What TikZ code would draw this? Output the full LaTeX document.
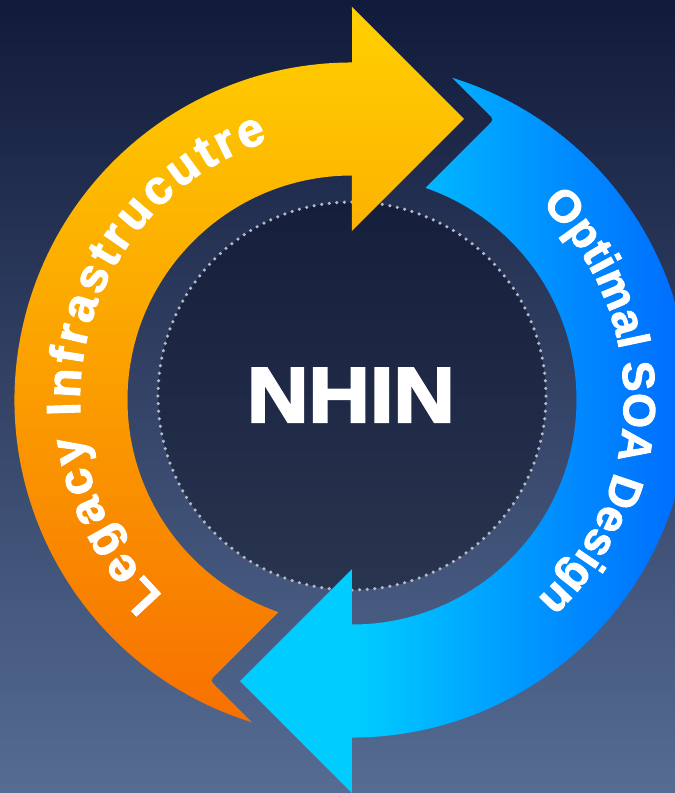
\documentclass[tikz,border=0pt]{standalone}
\usepackage{fontspec}
\setmainfont{Liberation Sans}
\newfontfamily\heavyfont[BoldFeatures={FakeBold=2}]{Liberation Sans}
\newfontfamily\blackfont[BoldFeatures={FakeBold=3}]{Liberation Sans}
\usepackage{graphicx}
\usetikzlibrary{decorations.text}
\definecolor{bgTop}{HTML}{111A3A}
\definecolor{bgMid}{HTML}{283B65}
\definecolor{bgBot}{HTML}{566C93}
\definecolor{diskTop}{HTML}{151F3C}
\definecolor{diskBot}{HTML}{29344F}
\definecolor{dotcol}{HTML}{B4BAC6}
\definecolor{yTop}{HTML}{FFD000}
\definecolor{yBot}{HTML}{F77000}
\definecolor{bA}{HTML}{00CCFF}
\definecolor{bB}{HTML}{0092FF}
\definecolor{bC}{HTML}{0060FF}
\pgfdeclarehorizontalshading{bluesh}{100bp}{color(0bp)=(bA); color(37bp)=(bA); color(56bp)=(bB); color(75bp)=(bC); color(100bp)=(bC)}
\tikzset{
  arctext/.style 2 args={decorate, decoration={text along path, text align=fit to path, text={|\fontsize{#1}{#1}\selectfont\heavyfont\bfseries\color{white}|#2}}},
  ringdot/.style={fill=dotcol},
  bigtext/.style={text=white, font=\fontsize{78}{78}\selectfont\blackfont\bfseries, inner sep=0pt}
}
\begin{document}
\begin{tikzpicture}[x=1pt,y=1pt]
\useasboundingbox (-352,-393) rectangle (323,400);
% background
\shade[top color=bgTop, middle color=bgMid, bottom color=bgBot] (-352,-393) rectangle (323,400);
% central disk
\shade[top color=diskTop, bottom color=diskBot] (0,4) circle[radius=194];
\foreach \a in {0,2.25,...,357.8} \path[ringdot] (0,4) ++(\a:194) circle[radius=1.75];
% yellow/orange arrow (legacy)
\shade[top color=yTop, bottom color=yBot]
  (0,224.5) arc[start angle=90, end angle=250.87, radius=224.5]
  -- (-135.6,-274.1) .. controls (-142,-280.5) .. (-135.6,-286.9)
  -- (-100,-322.3) arc[start angle=252.76, end angle=90, radius=337.5]
  -- (0,393) -- (112,281) -- (0,169) -- cycle;
% blue arrow (SOA)
\shade[shading=bluesh]
  (0,-224.5) arc[start angle=270, end angle=430.87, radius=224.5]
  -- (135.6,274.1) .. controls (142,280.5) .. (135.6,286.9)
  -- (100,322.3) arc[start angle=432.76, end angle=270, radius=337.5]
  -- (0,-393) -- (-112,-281) -- (0,-169) -- cycle;
% arc texts
\path[arctext={48}{Legacy Infrastrucutre}] (226:272) arc[start angle=226, end angle=108, radius=272];
\path[arctext={45}{Optimal SOA Design}] (46:272) arc[start angle=46, end angle=-47, radius=272];
% center label
\node[bigtext, anchor=base] (nhin) at (-1,-22) {\scalebox{1.09}[1]{NHIN}};
\end{tikzpicture}
\end{document}
